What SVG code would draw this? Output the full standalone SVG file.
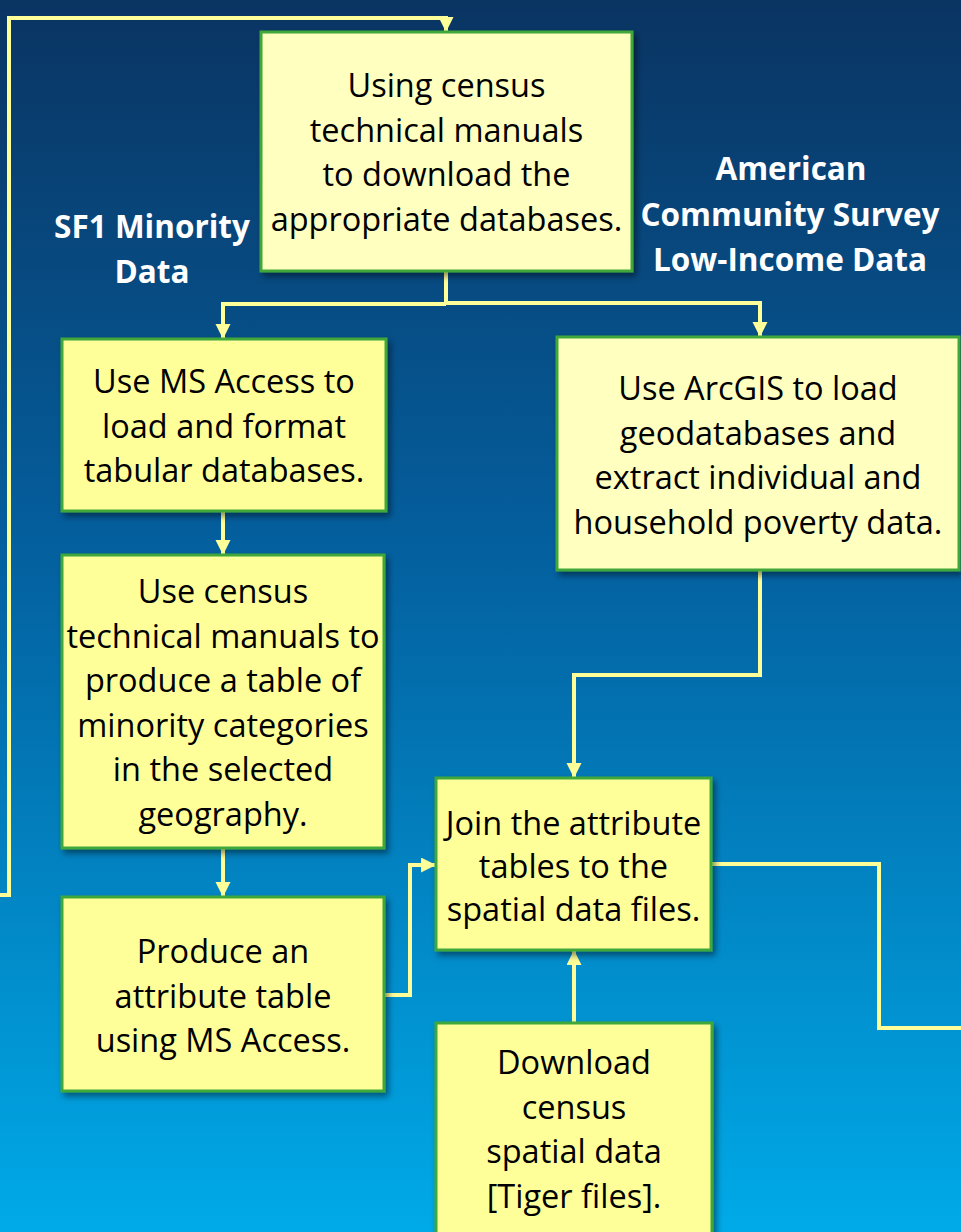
<svg xmlns="http://www.w3.org/2000/svg" width="961" height="1232" viewBox="0 0 961 1232">
<defs>
<linearGradient id="bg" x1="0" y1="0" x2="0" y2="1">
<stop offset="0" stop-color="#0a3462"/>
<stop offset="0.45" stop-color="#04609f"/>
<stop offset="1" stop-color="#00aae8"/>
</linearGradient>
<filter id="sh" x="-10%" y="-10%" width="130%" height="130%">
<feDropShadow dx="3" dy="4" stdDeviation="3" flood-color="#000" flood-opacity="0.45"/>
</filter>
<marker id="arr" markerUnits="userSpaceOnUse" markerWidth="16" markerHeight="16" refX="15" refY="7.5" orient="auto" viewBox="0 0 16 16">
<path d="M0,0 L15,7.5 L0,15 z" fill="#ffff99"/>
</marker>
<style>
.box{stroke:#3fa83a;stroke-width:3;filter:url(#sh)}
.y1{fill:#ffff99}
.y2{fill:#ffffbf}
.t{font-family:"Open Sans","Liberation Sans",sans-serif;font-size:32.5px;fill:#000;text-anchor:middle}
.lbl{font-family:"Open Sans","Liberation Sans",sans-serif;font-size:31.5px;font-weight:bold;fill:#fff;text-anchor:middle}
.c{fill:none;stroke:#ffff99;stroke-width:4;stroke-linejoin:miter}
</style>
</defs>
<rect x="0" y="0" width="961" height="1232" fill="url(#bg)"/>

<g id="labels">
<text class="lbl" x="152" y="238">SF1 Minority</text>
<text class="lbl" x="152" y="283">Data</text>
<text class="lbl" x="791" y="180">American</text>
<text class="lbl" x="790" y="226">Community Survey</text>
<text class="lbl" x="790" y="271">Low-Income Data</text>
</g>

<g id="connectors">
<path class="c" d="M0,895 H9 V18 H446 V32" marker-end="url(#arr)"/>
<path class="c" d="M446,271 V303"/>
<path class="c" d="M446,304 H223 V339" marker-end="url(#arr)"/>
<path class="c" d="M446,303 H760 V337" marker-end="url(#arr)"/>
<path class="c" d="M223,511 V555" marker-end="url(#arr)"/>
<path class="c" d="M223,848 V897" marker-end="url(#arr)"/>
<path class="c" d="M760,570 V675 H574 V778" marker-end="url(#arr)"/>
<path class="c" d="M384,995 H410 V865 H436" marker-end="url(#arr)"/>
<path class="c" d="M574,1023 V950" marker-end="url(#arr)"/>
<path class="c" d="M711,864 H879 V1028 H961"/>
</g>

<g id="n1">
<rect class="box y2" x="261" y="32" width="371" height="239"/>
<text class="t" x="446.5" y="97">Using census</text>
<text class="t" x="446.5" y="141.5">technical manuals</text>
<text class="t" x="446.5" y="186">to download the</text>
<text class="t" x="446.5" y="230.5">appropriate databases.</text>
</g>

<g id="n2">
<rect class="box y1" x="62" y="339" width="324" height="172"/>
<text class="t" x="224" y="393">Use MS Access to</text>
<text class="t" x="224" y="437.5">load and format</text>
<text class="t" x="224" y="482">tabular databases.</text>
</g>

<g id="n3">
<rect class="box y1" x="62" y="555" width="322" height="293"/>
<text class="t" x="223" y="603">Use census</text>
<text class="t" x="223" y="647.5">technical manuals to</text>
<text class="t" x="223" y="692">produce a table of</text>
<text class="t" x="223" y="736.5">minority categories</text>
<text class="t" x="223" y="781">in the selected</text>
<text class="t" x="223" y="825.5">geography.</text>
</g>

<g id="n4">
<rect class="box y1" x="62" y="897" width="322" height="194"/>
<text class="t" x="223" y="963">Produce an</text>
<text class="t" x="223" y="1007.5">attribute table</text>
<text class="t" x="223" y="1052">using MS Access.</text>
</g>

<g id="n5">
<rect class="box y2" x="557" y="337" width="402" height="233"/>
<text class="t" x="758" y="400">Use ArcGIS to load</text>
<text class="t" x="758" y="444.5">geodatabases and</text>
<text class="t" x="758" y="489">extract individual and</text>
<text class="t" x="758" y="533.5">household poverty data.</text>
</g>

<g id="n6">
<rect class="box y1" x="436" y="778" width="275" height="172"/>
<text class="t" x="573.5" y="835">Join the attribute</text>
<text class="t" x="573.5" y="878">tables to the</text>
<text class="t" x="573.5" y="921">spatial data files.</text>
</g>

<g id="n7">
<rect class="box y1" x="436" y="1023" width="276" height="220"/>
<text class="t" x="574" y="1074">Download</text>
<text class="t" x="574" y="1119">census</text>
<text class="t" x="574" y="1163">spatial data</text>
<text class="t" x="574" y="1208">[Tiger files].</text>
</g>
</svg>
